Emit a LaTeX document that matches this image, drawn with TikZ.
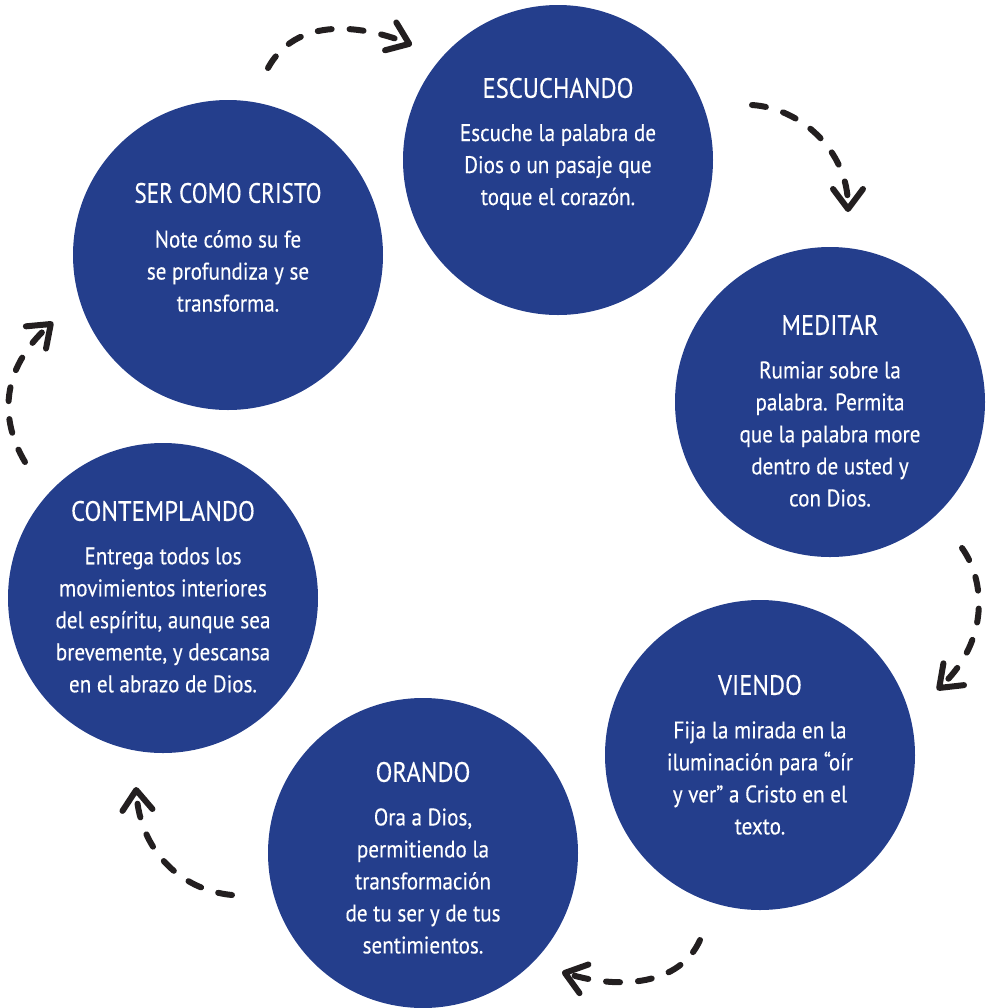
\documentclass[tikz,border=0pt]{standalone}
\usepackage{fontspec}
\setmainfont{PT Sans}[FakeStretch=0.88,FakeBold=0.3]
\usetikzlibrary{arrows.meta}
\definecolor{azul}{RGB}{36,62,140}
\definecolor{tinta}{RGB}{35,31,32}
\tikzset{
  etapa/.style={circle,fill=azul,minimum size=155pt,inner sep=0pt},
  titulo/.style={white,font=\fontsize{14}{16}\selectfont},
  texto/.style={white,align=center,font=\fontsize{12}{16}\selectfont},
  flecha/.style={tinta,line width=3pt,line cap=round,dash pattern=on 7pt off 9pt,
    -{Straight Barb[round,length=10pt,width=15pt]}}
}
\begin{document}
\begin{tikzpicture}[x=0.5pt,y=-0.5pt]
\useasboundingbox (0,0) rectangle (986,1008);
% circulos
\node[etapa] (escuchar) at (558,160) {};
\node[etapa] (cristo) at (228,255) {};
\node[etapa] (meditar) at (830,402) {};
\node[etapa] (contemplar) at (163,598) {};
\node[etapa] (ver) at (760,755) {};
\node[etapa] (orar) at (423,853) {};

% textos
\node[titulo] (escuchar-t) at (558,88) {ESCUCHANDO};
\node[texto] (escuchar-x) at (558,167) {Escuche la palabra de\\Dios o un pasaje que\\toque el corazón.};
\node[titulo,xscale=0.94] (cristo-t) at (228,193) {SER COMO CRISTO};
\node[texto] (cristo-x) at (228,271) {Note cómo su fe\\se profundiza y se\\transforma.};
\node[titulo] (meditar-t) at (830,325) {MEDITAR};
\node[texto] (meditar-x) at (830,434) {Rumiar sobre la\\palabra. Permita\\que la palabra more\\dentro de usted y\\con Dios.};
\node[titulo] (contemplar-t) at (163,511) {CONTEMPLANDO};
\node[texto] (contemplar-x) at (163,620) {Entrega todos los\\movimientos interiores\\del espíritu, aunque sea\\brevemente, y descansa\\en el abrazo de Dios.};
\node[titulo] (ver-t) at (760,685) {VIENDO};
\node[texto] (ver-x) at (760,778) {Fija la mirada en la\\iluminación para “oír\\y ver” a Cristo en el\\texto.};
\node[titulo] (orar-t) at (423,772) {ORANDO};
\node[texto] (orar-x) at (423,881) {Ora a Dios,\\permitiendo la\\transformación\\de tu ser y de tus\\sentimientos.};

% flechas
\coordinate (f1a) at (268,68);   \coordinate (f1b) at (412,45);
\coordinate (f2a) at (752,105);  \coordinate (f2b) at (848,212);
\coordinate (f3a) at (962,548);  \coordinate (f3b) at (937,690);
\coordinate (f4a) at (700,940);  \coordinate (f4b) at (562,972);
\coordinate (f5a) at (232,895);  \coordinate (f5b) at (136,787);
\coordinate (f6a) at (25,462);   \coordinate (f6b) at (53,322);
\draw[flecha] (f1a) .. controls (300,10) and (375,30) .. (f1b);
\draw[flecha] (f2a) .. controls (800,108) and (848,150) .. (f2b);
\draw[flecha] (f3a) .. controls (985,580) and (990,640) .. (f3b);
\draw[flecha] (f4a) .. controls (680,985) and (620,990) .. (f4b);
\draw[flecha] (f5a) .. controls (180,890) and (140,850) .. (f5b);
\draw[flecha] (f6a) .. controls (0,420) and (0,370) .. (f6b);
\end{tikzpicture}
\end{document}
